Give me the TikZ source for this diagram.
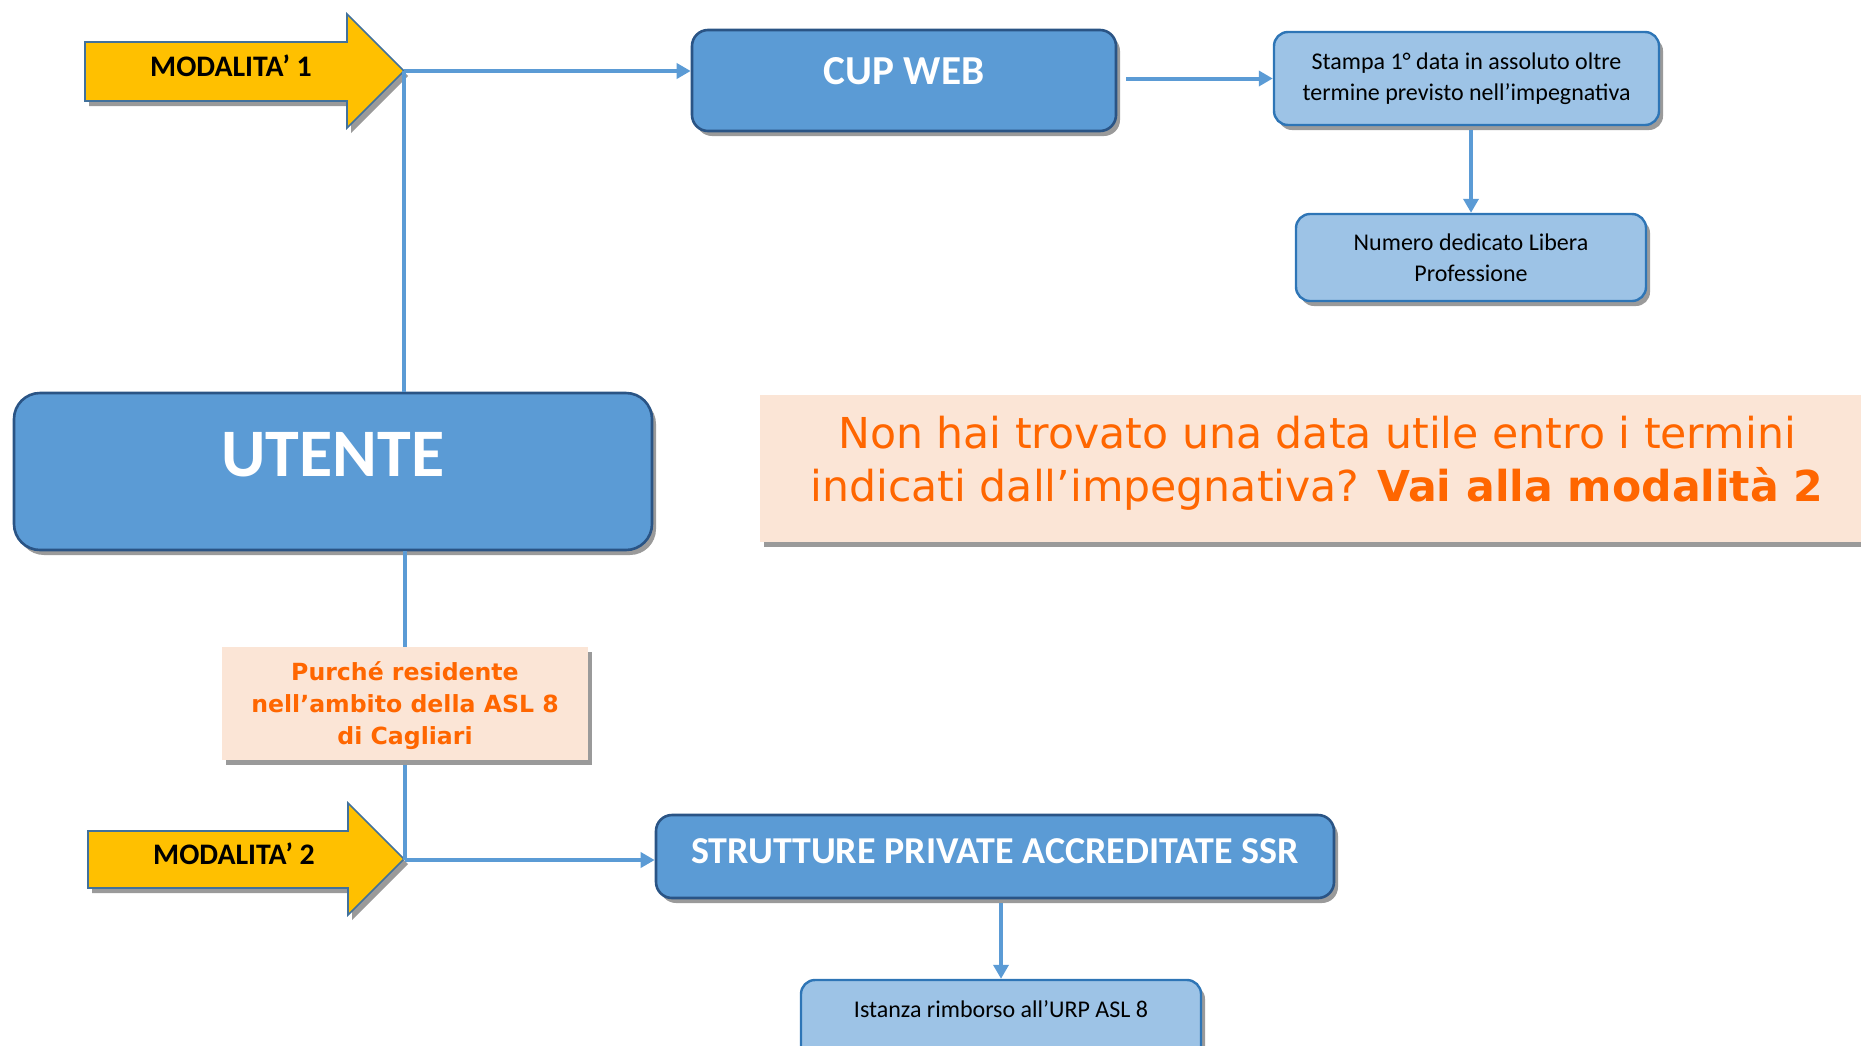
\documentclass[tikz,border=0pt]{standalone}
\usepackage{fontspec}
\setmainfont{Carlito}
\newfontfamily\notefont{DejaVu Sans}
\usetikzlibrary{arrows.meta,positioning,shadows}
\definecolor{boxblue}{HTML}{5B9BD5}
\definecolor{boxedge}{HTML}{2A5485}
\definecolor{lightblue}{HTML}{9DC3E6}
\definecolor{lightedge}{HTML}{2E75B6}
\definecolor{modyellow}{HTML}{FFC000}
\definecolor{modedge}{HTML}{41719C}
\definecolor{noteorange}{HTML}{FF6600}
\definecolor{notefill}{HTML}{FBE5D6}
\definecolor{shadowgray}{HTML}{9A9A9A}

\begin{document}
\begin{tikzpicture}[x=0.5pt,y=-0.5pt,
      box_shadow/.style={
         general shadow={fill=shadowgray,shadow xshift=2pt,shadow yshift=-2.5pt}},
      box_dark/.style={
         rectangle,
         rounded corners=8pt,
         draw=boxedge,
         line width=1.3pt,
         fill=boxblue,
         text=white,
         box_shadow},
      box_light/.style={
         rectangle,
         rounded corners=7pt,
         draw=lightedge,
         line width=1.2pt,
         fill=lightblue,
         text=black,
         align=center,
         font=\fontsize{12}{15.5}\selectfont,
         box_shadow},
      note_box/.style={
         rectangle,
         fill=notefill,
         text=noteorange,
         align=center,
         box_shadow},
      mod_arrow/.style={
         draw=modedge,
         line width=0.8pt,
         fill=modyellow,
         box_shadow},
      line_blue/.style={
         draw=boxblue,
         line width=2pt},
      arrow_blue/.style={
         -{Triangle[length=7pt,width=7.5pt]},
         line_blue}
]
      \useasboundingbox (0,0) rectangle (1861,1045);

      %modalita 1
      \draw[mod_arrow] (85,42) -- (347,42) -- (347,14) -- (404,71)
         -- (347,128) -- (347,101) -- (85,101) -- cycle;
      \node[font=\bfseries\fontsize{14.9}{17}\selectfont] (m1lbl) at (231,66) {MODALITA’ 1};
      \coordinate (m1tip) at (404,71);

      %modalita 2
      \draw[mod_arrow] (88,831) -- (348,831) -- (348,803) -- (404,859)
         -- (348,915) -- (348,888) -- (88,888) -- cycle;
      \node[font=\bfseries\fontsize{14.9}{17}\selectfont] (m2lbl) at (234,854) {MODALITA’ 2};
      \coordinate (m2tip) at (405,860);

      \node[box_dark, rounded corners=13pt, minimum width=319pt, minimum height=78.5pt,
         font=\bfseries\fontsize{34}{40}\selectfont, text height=22pt, text depth=17pt]
         (utente) at (333,471.5) {UTENTE};

      \node[box_dark, minimum width=212pt, minimum height=50.5pt,
         font=\bfseries\fontsize{20.6}{24}\selectfont, text height=13pt, text depth=9pt]
         (cupweb) at (904,80.5) {CUP WEB};
      \node[box_light, minimum width=192.5pt, minimum height=46.5pt]
         (stampa) at (1466.5,78.5) {Stampa 1° data in assoluto oltre\\termine previsto nell’impegnativa};
      \node[box_light, minimum width=175pt, minimum height=43.5pt]
         (numero) at (1471,257.5) {Numero dedicato Libera\\Professione};

      \node[box_dark, minimum width=339pt, minimum height=41.5pt,
         font=\bfseries\fontsize{19}{22}\selectfont, text height=12pt, text depth=5pt]
         (strutture) at (995,856.5) {STRUTTURE PRIVATE ACCREDITATE SSR};
      \node[box_light, minimum width=200pt, minimum height=41pt, text height=7.7pt, text depth=11pt]
         (istanza) at (1001,1021) {Istanza rimborso all’URP ASL 8};

      \node[note_box, minimum width=557pt, minimum height=73.5pt, text depth=10pt,
         font=\notefont\fontsize{21.3}{26.5}\selectfont]
         (nota) at (1317,468.5) {Non hai trovato una data utile entro i termini\\indicati dall’impegnativa? \textbf{Vai alla modalità 2}};

      %connectors
      \draw[arrow_blue] (m1tip) -- (m1tip -| cupweb.west);
      \draw[line_blue] (m1tip) -- (m1tip |- utente.north);
      \draw[arrow_blue, shorten <=4.5pt] (cupweb.east |- stampa.west) -- (stampa.west);
      \draw[line_blue] (m2tip |- utente.south) -- (m2tip);
      \draw[arrow_blue] (m2tip) -- (m2tip -| strutture.west);
      \foreach \i/\j in {stampa/numero, strutture/istanza}
         \draw[arrow_blue, shorten <=2pt] (\j.north |- \i.south) -- (\j.north);

      %condition on the line
      \node[note_box, minimum width=183pt, minimum height=56.5pt, text depth=0pt,
         font=\notefont\bfseries\fontsize{11.8}{16}\selectfont]
         (purche) at (405,703.5) {Purché residente\\nell’ambito della ASL 8\\di Cagliari};
\end{tikzpicture}
\end{document}
